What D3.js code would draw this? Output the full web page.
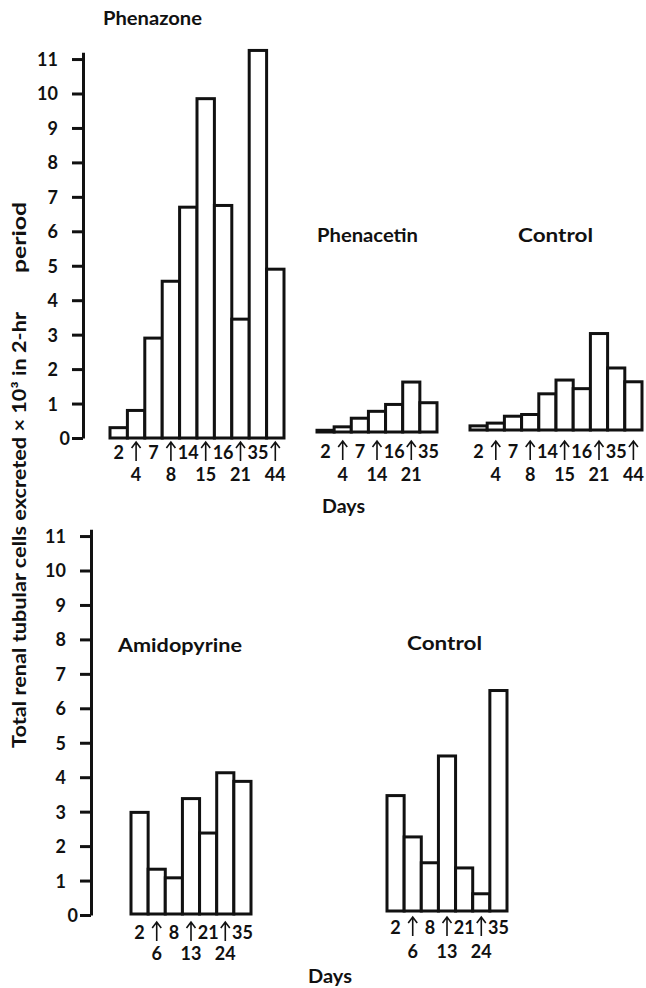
<!DOCTYPE html>
<html lang="en">
<head>
<meta charset="UTF-8" />
<title>Renal tubular cells excreted</title>
<script src="https://d3js.org/d3.v7.min.js"></script>
<style>
  body { margin: 0; background: #fff; }
  svg text { font-family: Lato, "Open Sans", sans-serif; font-weight: bold; fill: #111; }
  .bar { fill: #fff; stroke: #111; stroke-width: 3px; }
  .axis path, .axis line { stroke: #111; stroke-width: 3px; }
  .axis text { font-size: 18px; }
  .title { font-size: 18px; }
  .day { font-size: 18px; text-anchor: middle; }
  .arrow { fill: none; stroke: #111; stroke-width: 1.6px; }
</style>
</head>
<body>
<svg id="chart" width="646" height="988"></svg>
<script>
  // day of each 2-hr collection, and cells excreted (x 10^3)
  const phenazoneDays = [2, 4, 7, 8, 14, 15, 16, 21, 35, 44];
  const phenazoneCells = [0.3, 0.8, 2.9, 4.55, 6.7, 9.85, 6.75, 3.45, 11.25, 4.9];

  const phenacetinDays = [2, 4, 7, 14, 16, 21, 35];
  const phenacetinCells = [0.05, 0.15, 0.4, 0.6, 0.8, 1.45, 0.85];

  const controlTopDays = [2, 4, 7, 8, 14, 15, 16, 21, 35, 44];
  const controlTopCells = [0.12, 0.2, 0.4, 0.45, 1.05, 1.45, 1.2, 2.8, 1.8, 1.4];

  const amidopyrineDays = [2, 6, 8, 13, 21, 24, 35];
  const amidopyrineCells = [2.95, 1.3, 1.05, 3.35, 2.35, 4.1, 3.85];

  const controlBottomDays = [2, 6, 8, 13, 21, 24, 35];
  const controlBottomCells = [3.35, 2.15, 1.4, 4.5, 1.25, 0.5, 6.4];

  const yTicks = [0, 1, 2, 3, 4, 5, 6, 7, 8, 9, 10, 11];

  const svg = d3.select("#chart");
  const unit = 34.45; // px per 1000 cells

  function yScale(base) {
    return d3.scaleLinear().domain([0, 11.2]).range([base, base - 11.2 * unit]);
  }

  // Y axes (one per row)
  function drawAxis(x, base) {
    const y = yScale(base);
    const g = svg.append("g")
      .attr("class", "axis")
      .attr("transform", `translate(${x},0)`)
      .call(d3.axisLeft(y).tickValues(yTicks).tickSize(11).tickSizeOuter(0).tickPadding(14));
    g.selectAll(".tick text").attr("dy", "0.36em").attr("dx", d => d === 0 ? 12 : 0);
  }
  drawAxis(83, 438);
  drawAxis(91, 915);

  // Bar panels
  function drawPanel(days, cells, x0, x1, base, row1, row2) {
    const x = d3.scaleBand().domain(days).range([x0, x1]);
    const y = yScale(base);
    const g = svg.append("g");

    g.selectAll("rect")
      .data(cells)
      .enter()
      .append("rect")
      .attr("class", "bar")
      .attr("x", (d, i) => x(days[i]))
      .attr("y", d => y(d))
      .attr("width", x.bandwidth())
      .attr("height", d => base - y(d));

    days.forEach((day, i) => {
      const cx = x(day) + x.bandwidth() / 2;
      if (i % 2 === 0) {
        g.append("text").attr("class", "day").attr("x", cx).attr("y", row1).text(day);
      } else {
        // upward arrow marking a dose
        const top = row1 - 17;
        g.append("path")
          .attr("class", "arrow")
          .attr("d", `M${cx},${row1 + 2}V${top}M${cx - 4.5},${top + 6}L${cx},${top}L${cx + 4.5},${top + 6}`);
        g.append("text").attr("class", "day").attr("x", cx).attr("y", row2).text(day);
      }
    });
  }

  drawPanel(phenazoneDays, phenazoneCells, 110, 284, 438, 459, 481);
  drawPanel(phenacetinDays, phenacetinCells, 317, 437, 432, 458, 481);
  drawPanel(controlTopDays, controlTopCells, 470, 642, 430, 458, 481);
  drawPanel(amidopyrineDays, amidopyrineCells, 131, 251, 914, 939, 960);
  drawPanel(controlBottomDays, controlBottomCells, 387, 507, 911, 934, 958);

  // Titles: text, x, baseline, width
  const titles = [
    ["Phenazone", 103, 25, 99],
    ["Phenacetin", 317, 242, 101],
    ["Control", 518, 242, 75],
    ["Days", 322, 513, 43],
    ["Amidopyrine", 118, 652, 124],
    ["Control", 407, 650, 75],
    ["Days", 308, 983, 44]
  ];
  titles.forEach(([t, x, y, w]) => {
    svg.append("text")
      .attr("class", "title")
      .attr("x", x)
      .attr("y", y)
      .attr("textLength", w)
      .attr("lengthAdjust", "spacingAndGlyphs")
      .text(t);
  });

  // Y axis title
  svg.append("text")
    .attr("class", "title")
    .attr("transform", "translate(26,748) rotate(-90)")
    .attr("textLength", 436)
    .attr("lengthAdjust", "spacingAndGlyphs")
    .text("Total renal tubular cells excreted \u00d7 10\u00b3 in 2-hr");
  svg.append("text")
    .attr("class", "title")
    .attr("transform", "translate(26,273) rotate(-90)")
    .attr("textLength", 71)
    .attr("lengthAdjust", "spacingAndGlyphs")
    .text("period");
</script>
</body>
</html>
